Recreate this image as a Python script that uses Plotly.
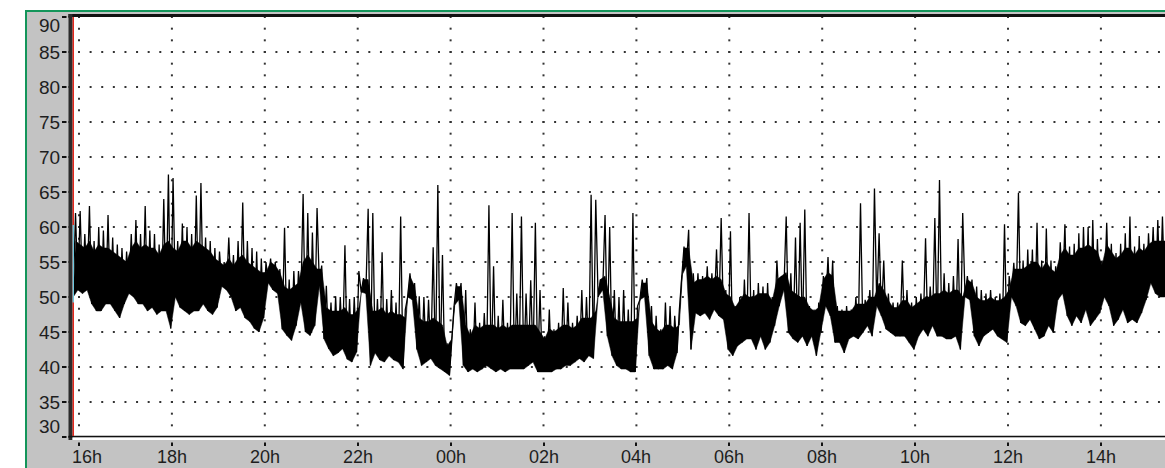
import pandas as pd
import plotly.graph_objects as go

# ---------------- data ----------------
# per 6-minute bin (from 15:52:30): highest level reached (dB, incl. spikes)
hi = [62, 62.3, 59, 63, 58, 60, 59.5, 61.7, 58.5, 57.5,
      57, 56.5, 59, 61, 59, 63, 59.5, 59, 57.5, 64,
      67.5, 67, 58, 60.5, 60, 59, 64.5, 66.3, 58.5, 58,
      57, 56.5, 55, 58.5, 56, 58, 63.5, 58, 57, 56.5,
      55.5, 55, 55.5, 55, 54, 59.9, 52.5, 53.7, 53.7, 64.7,
      62, 59.2, 62.7, 54.5, 51.6, 49.2, 50.1, 50, 57.4, 49.7,
      50, 53.7, 52.7, 62.6, 62, 49.7, 56.4, 49.7, 51, 49.2,
      61.5, 48.2, 53.4, 52, 50.1, 50, 49.6, 57.1, 66, 56,
      43.4, 44.5, 52, 52, 51, 45.4, 49.2, 46.3, 47.7, 63.1,
      54.4, 47.3, 49.6, 46.3, 62, 50.5, 61.5, 50.5, 52.4, 60.6,
      51, 44.4, 48.2, 45.4, 46.3, 51.3, 49.2, 46.3, 47.3, 51,
      50, 64.6, 63.9, 52.5, 61.7, 60, 51, 50, 51, 48.2,
      62, 48.7, 52.5, 52.7, 48.7, 47.3, 45.4, 49.2, 48.7, 47.3,
      48.2, 57.2, 59.6, 53.4, 53.4, 53, 54.4, 53.4, 56.8, 61.3,
      51, 59.4, 48.7, 50, 52.5, 62, 51, 52, 51.5, 52,
      50, 55.2, 53, 61.5, 53.4, 58.5, 60.6, 62.5, 48.7, 48.2,
      49.2, 53, 55.7, 55.2, 48.7, 48.2, 48.7, 48.2, 50, 63.4,
      49.6, 51, 65.5, 59.1, 55.2, 50.5, 49.2, 49.2, 55.2, 51,
      49.2, 50, 50.5, 58.4, 51.5, 61.3, 66.7, 53.4, 52, 53,
      58.3, 62, 53, 52.5, 51.5, 51, 50.5, 51, 50, 50.5,
      60.4, 53, 54.9, 64.9, 55.2, 56.8, 56.8, 60.6, 55.2, 59.8,
      55.2, 54.4, 57.8, 60.4, 57.2, 57.6, 59.1, 60, 60, 61,
      58.3, 55.2, 60.6, 57.6, 56.3, 57.6, 59.1, 61.5, 57.2, 58.7,
      57.6, 59.1, 60, 61, 61.5, 61.7]

# per bin: top of the dense (solid) part of the trace (dB)
body = [58, 57.5, 57, 58, 56.5, 57.5, 57, 57, 56.5, 56,
        55.5, 55, 57, 58, 57, 57.5, 57, 57, 56, 57.5,
        58, 57, 56.5, 58, 58, 57, 58, 57.5, 57, 56.5,
        55.5, 55, 54.5, 55.5, 54.5, 55.5, 56, 55, 54.5, 54,
        53.5, 53.5, 55, 54.5, 53.5, 51.5, 51, 51.5, 52, 55,
        56, 55, 54, 54, 48.5, 48, 48, 48, 48.5, 47.5,
        47.5, 48.5, 52.5, 52.5, 48, 48, 48.5, 47.5, 48, 47.5,
        47.5, 47, 53, 51.5, 47, 46.5, 46.5, 47, 46.5, 46,
        43, 44, 51.5, 51.5, 46, 44.5, 46, 45.5, 46, 46,
        46, 45.5, 46, 45.5, 46, 46, 46, 46, 46, 46,
        45, 44, 45.5, 45, 45.5, 46, 46, 45.5, 46, 47,
        47, 47, 48, 52.5, 53, 50, 47, 46.5, 46.5, 46.5,
        46.5, 47, 52, 52, 46.5, 45.5, 45, 46, 46, 45.5,
        46, 57, 57, 52, 52.5, 52.5, 53, 52.5, 53, 52.5,
        50.5, 50, 48.5, 49.5, 50.5, 50, 50, 50.5, 50.5, 50.5,
        49.5, 52.5, 53, 53.5, 51, 50.5, 50, 50, 48.5, 48,
        48.5, 52.5, 53.5, 53, 48, 48, 48, 48, 49, 49,
        49, 50, 50, 52, 51, 49.5, 48.5, 48.5, 49.5, 49.5,
        48.5, 49, 49.5, 50, 50, 50.5, 50.5, 51, 50.5, 51,
        51, 50, 52.5, 52, 50, 49.5, 49.5, 50, 49.5, 49.5,
        50, 51, 54, 54, 54, 54.5, 55, 55, 54, 55,
        54, 53.5, 56, 57, 56, 56, 57, 57, 57.5, 57,
        56.5, 54.5, 57.5, 56.5, 55.5, 56, 57, 57, 56, 57,
        56.5, 57.5, 58, 58, 58, 58]

# per bin: lowest level reached (dB)
lo = [50, 51, 50.5, 51, 49, 48, 48, 49, 49, 48,
      47, 49, 50.5, 50, 49, 49, 48, 48.5, 47.5, 48,
      48, 45.5, 50, 48.5, 48, 47.5, 48, 48, 49, 48,
      47.5, 48.5, 51.5, 51, 50, 48, 48.5, 47, 46.5, 45.5,
      45, 47, 52, 51, 50.5, 45.4, 44.5, 43.8, 45.9, 49.2,
      45, 44.5, 45.9, 51.6, 44, 42.6, 41.6, 42, 42.6, 41.1,
      40.7, 42.1, 50.7, 50.5, 40.2, 42, 41, 40.7, 41.6, 41,
      40.7, 39.7, 50, 49.6, 42.5, 40.2, 40.7, 41.2, 40.2, 39.8,
      39.3, 38.8, 48.7, 49.6, 40.2, 39.3, 39.7, 39.3, 39.7, 40.2,
      39.7, 39.3, 39.7, 39.3, 39.7, 39.7, 39.7, 39.7, 40.2, 40.7,
      39.3, 39.3, 39.3, 39.3, 39.7, 39.7, 40.2, 40.2, 40.7, 41.2,
      40.7, 41.6, 41.2, 50, 51, 44.4, 41.6, 40.2, 39.7, 39.7,
      39.3, 39.3, 49.6, 50, 41.6, 39.7, 39.7, 39.7, 40.2, 39.7,
      42, 53, 54.4, 42.5, 47.7, 47.3, 47.7, 46.8, 48.2, 47.3,
      46.8, 42.5, 41.6, 43, 43.5, 44, 44, 42.5, 44.4, 42.5,
      43.5, 45.9, 48.7, 51, 44.9, 44, 43.5, 44.4, 43, 44.4,
      41.6, 44.9, 48.7, 47.3, 43.5, 43.5, 42, 44, 44.4, 44,
      44.9, 45.9, 44.4, 48.7, 47.3, 45.4, 44.9, 44.4, 44.4, 44.4,
      43.5, 42.5, 44.4, 45.4, 44.4, 45.9, 44.4, 44.4, 44, 44,
      44.4, 42.5, 50, 49.6, 44.4, 43, 44.4, 44.9, 45.4, 44.4,
      44, 43.5, 50, 48.7, 46.3, 45.9, 46.8, 45.4, 44, 44.4,
      45.9, 44.9, 49.6, 50.5, 47.3, 45.9, 47.3, 46.3, 48.2, 45.9,
      46.8, 47.7, 50, 48.7, 45.9, 46.8, 48.2, 46.3, 46.8, 46.3,
      47.7, 49.6, 52, 50.5, 50, 50]

start = "2000-01-01 15:52:30"
bin_minutes = 6
x_range = ["2000-01-01 15:52:15", "2000-01-02 15:22:48"]
y_ticks = list(range(30, 95, 5))
x_tick_times = pd.date_range("2000-01-01 16:00", "2000-01-02 14:00", freq="2h")
x_tick_labels = [t.strftime("%Hh") for t in x_tick_times]
cursor_range = [49.2, 60.3]

# ---------------- build series ----------------
times = pd.date_range(start, periods=len(hi), freq=f"{bin_minutes}min")
half = pd.Timedelta(minutes=bin_minutes / 2)
xs, ys = [], []
for t, l, h in zip(times, lo, hi):
    xs += [t, t + half]
    ys += [l, h]

band_x = [t + half for t in times] + list(times)[::-1]
band_y = body + lo[::-1]

# dotted grid as dots
gx, gy = [], []
dot_times = pd.date_range("2000-01-01 16:00", "2000-01-02 15:15", freq="15min")
for v in y_ticks[1:-1]:
    for t in dot_times:
        gx.append(t)
        gy.append(v)
for t in x_tick_times:
    for i in range(37):
        gx.append(t)
        gy.append(30 + i * 5 / 3)

W, H = 1165, 468
L, T, B = 73, 17, 437
GRAY = "#c3c3c3"
GREEN = "#13955a"
FONT = "Liberation Sans"


def px(x):
    return (x - L) / (W - L)


def py(y):
    return (B - y) / (B - T)


def rect(x0, y0, x1, y1, color):
    return dict(type="rect", xref="paper", yref="paper", x0=px(x0), x1=px(x1),
                y0=py(y1), y1=py(y0), fillcolor=color, line_width=0, layer="above")


fig = go.Figure()
fig.add_trace(go.Scatter(x=gx, y=gy, mode="markers", hoverinfo="skip",
                         marker=dict(symbol="square", size=2, color="#333333", line_width=0)))
fig.add_trace(go.Scatter(x=band_x, y=band_y, mode="lines", fill="toself", fillcolor="black",
                         line=dict(width=0.5, color="black"), hoverinfo="skip"))
fig.add_trace(go.Scatter(x=xs, y=ys, mode="lines", line=dict(color="black", width=1.3),
                         hoverinfo="skip"))

shapes = [
    rect(0, 0, W, 10, "white"),
    rect(0, 0, 25, H, "white"),
    rect(25, 10, W, 12, GREEN),
    rect(25, 10, 27, H, GREEN),
    rect(66.5, 12, 68.5, 443, GRAY),
    rect(68.5, 14, W, 17, "#111111"),
    rect(68.5, 14, 72.5, 440, "#2b2b2b"),
    rect(68.5, 435.8, W, 437.6, "#111111"),
    rect(72.5, 437.6, W, 440, "white"),
    rect(72.5, 440, W, 442.6, GRAY),
    rect(72.6, 17, 74, 436, "#e3261b"),
    dict(type="rect", xref="paper", yref="y", x0=px(72.6), x1=px(74),
         y0=cursor_range[0], y1=cursor_range[1], fillcolor="#6cc8de", line_width=0, layer="above"),
]

annotations = []
for v in y_ticks:
    shift = -8 if v == y_ticks[-1] else (11 if v == y_ticks[0] else 0)
    annotations.append(dict(x=px(62), xref="paper", y=v, yref="y", text=str(v),
                            xanchor="right", yanchor="middle", showarrow=False, yshift=shift,
                            font=dict(family=FONT, size=19, color="#1e1e1e")))
for i, (t, lab) in enumerate(zip(x_tick_times, x_tick_labels)):
    annotations.append(dict(x=t, xref="x", y=py(457), yref="paper", text=lab,
                            xanchor="center", yanchor="middle", showarrow=False,
                            xshift=8 if i == 0 else 0,
                            font=dict(family=FONT, size=18, color="#1e1e1e")))

fig.update_layout(
    width=W, height=H,
    margin=dict(l=L, r=0, t=T, b=H - B, pad=0),
    paper_bgcolor=GRAY, plot_bgcolor="white",
    showlegend=False, shapes=shapes, annotations=annotations,
    xaxis=dict(type="date", range=x_range, showgrid=False, zeroline=False, showline=False,
               tickvals=list(x_tick_times), showticklabels=False, ticks="outside",
               ticklen=8, tickwidth=1.5, tickcolor="#111111", fixedrange=True),
    yaxis=dict(range=[30, 90], showgrid=False, zeroline=False, showline=False,
               tickvals=y_ticks, showticklabels=False, ticks="outside", ticklen=10,
               tickwidth=1.5, tickcolor="#111111", fixedrange=True),
)

fig.write_html("out.html", config={"displayModeBar": False},
               post_script="document.body.style.margin='0';document.body.style.overflow='hidden';")
